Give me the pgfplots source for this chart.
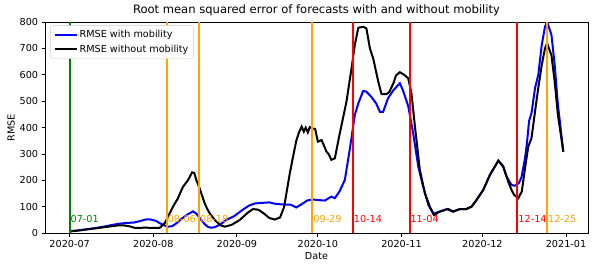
\documentclass[border=0pt]{standalone}
\usepackage{fontspec}
\setmainfont{DejaVu Sans}
\usepackage{pgfplots}
\pgfplotsset{compat=1.18}
\definecolor{mplgreen}{RGB}{0,128,0}
\definecolor{mplorange}{RGB}{255,165,0}
\definecolor{mplred}{RGB}{255,0,0}
\definecolor{mplblue}{RGB}{0,0,255}
\begin{document}
\begin{tikzpicture}
\useasboundingbox (0,0) rectangle (595bp,270bp);
\begin{axis}[
  at={(45bp,36.7bp)}, anchor=south west,
  scale only axis, width=543bp, height=211.3bp,
  xmin=-9.15, xmax=192.15, ymin=0, ymax=800,
  xtick={0,31,62,92,123,153,184},
  xticklabels={2020-07,2020-08,2020-09,2020-10,2020-11,2020-12,2021-01},
  ytick={0,100,...,800},
  xtick pos=left, ytick pos=left, tick align=outside,
  major tick length=3.4bp,
  every tick/.style={black, line width=0.9bp},
  axis line style={line width=0.9bp},
  /pgf/number format/assume math mode=true,
  tick label style={font=\fontsize{9.7}{11}\selectfont},
  label style={font=\fontsize{9.7}{11}\selectfont},
  xlabel={Date}, ylabel={RMSE},
  xlabel style={yshift=2bp},
  ylabel style={yshift=-2bp},
  title={Root mean squared error of forecasts with and without mobility},
  title style={font=\fontsize{11.6}{13}\selectfont, yshift=-3bp},
  legend style={at={(0.01,0.985)}, anchor=north west, draw=black!20, rounded corners=2bp,
    font=\fontsize{9.7}{11}\selectfont, inner xsep=3bp, inner ysep=3bp, row sep=1.5bp},
  legend cell align=left,
  legend image code/.code={\draw[line width=2bp,#1] (0bp,0bp) -- (22bp,0bp);},
  clip=true,
]
\addplot[draw=mplblue, line width=2bp] coordinates {
(0,8) (3,11) (6,15) (9,19) (12,24) (15,30) (18,36) (21,39) (24,41) (26,46) (28,52) (29.7,53) (32,47) (33.4,38) (35,30) (36.5,25) (38,27) (39.6,38) (41.5,55) (43.3,69) (45.7,83) (47,74) (48.8,50) (50,35) (51.3,24) (52.5,21) (54,24) (56,35) (58,50) (61,65) (64,88) (66.5,105) (68.6,113) (71,115) (74,117) (76,112) (78,110) (80,109) (82,108) (84,98) (86,110) (88,124) (90,128) (92,126) (94.6,124) (97,139) (98.3,133) (100,158) (102,202) (103.9,322) (105.7,448) (107,492) (108.8,539) (110,536) (111.8,517) (113.6,492) (115,460) (116.2,460) (118,511) (120,542) (122.4,568) (123.6,540) (125.5,481) (127.3,381) (129.2,254) (131,178) (133,107) (134.8,74) (137,82) (140,92) (142,82) (144.7,92) (147,92) (149,101) (150.8,126) (153.3,164) (155.8,221) (158.9,275) (160.7,255) (162,214) (163.8,183) (165,180) (166.5,190) (167.5,212) (168.8,285) (169.5,340) (170.3,425) (171.2,455) (172.5,549) (173.7,599) (175,713) (176.2,782) (177,800) (178.6,751) (179.8,637) (181,486) (183,309)
};
\addlegendentry{RMSE with mobility}
\addplot[draw=black, line width=2bp] coordinates {
(0,7) (3,10) (6,14) (9,18) (12,22) (15,26) (18,30) (20,30) (22,27) (24,21) (26,20) (28,22) (30,20) (33.4,21) (35.2,38) (38.3,101) (40,130) (42,176) (43.9,202) (45.4,231) (46.2,228) (47,200) (48,175) (49,145) (50,115) (51,92) (52,74) (54,48) (56,30) (57.5,25) (60,32) (63,50) (66,78) (68,92) (70,89) (72,75) (74,58) (76,52) (78,60) (79.5,100) (81.6,227) (83,300) (84,350) (85,382) (86,404) (86.8,385) (87.5,400) (88.3,382) (89,402) (90,397) (91,395) (92,347) (93.4,353) (95.2,309) (96,300) (97,278) (98.3,284) (100,372) (102.6,498) (104.5,625) (105.7,713) (107,778) (108.8,782) (110,776) (111.3,700) (112.5,663) (114.4,574) (115.6,527) (117.4,527) (118.5,535) (120,568) (121,598) (122.4,610) (124,600) (125.5,587) (126.7,530) (128,404) (129.8,240) (131.7,151) (133.5,101) (135.1,69) (137.2,82) (140.3,92) (142.2,82) (144.7,92) (147.1,92) (149,101) (150.8,126) (153.3,164) (155.8,221) (158.9,275) (160.7,252) (162.6,195) (163.8,164) (164.8,145) (166.3,133) (167.6,158) (168.8,246) (170,328) (171.2,360) (172.5,460) (173.7,549) (175,637) (176.2,700) (177,719) (178.6,674) (179.8,574) (181,448) (183,309)
};
\addlegendentry{RMSE without mobility}
\addplot[draw=mplgreen, line width=2bp, forget plot] coordinates {(0,0) (0,800)};
\addplot[draw=mplorange, line width=2bp, forget plot] coordinates {(36,0) (36,800)};
\addplot[draw=mplorange, line width=2bp, forget plot] coordinates {(48,0) (48,800)};
\addplot[draw=mplorange, line width=2bp, forget plot] coordinates {(90,0) (90,800)};
\addplot[draw=mplred, line width=2bp, forget plot] coordinates {(105,0) (105,800)};
\addplot[draw=mplred, line width=2bp, forget plot] coordinates {(126,0) (126,800)};
\addplot[draw=mplred, line width=2bp, forget plot] coordinates {(166,0) (166,800)};
\addplot[draw=mplorange, line width=2bp, forget plot] coordinates {(177,0) (177,800)};
\begin{scope}[every node/.style={anchor=base west, inner sep=0pt, font=\fontsize{9.7}{11}\selectfont}]
\node[text=mplgreen] at (axis cs:0.3,40) {07-01};
\node[text=mplorange] at (axis cs:36.3,40) {08-06};
\node[text=mplorange] at (axis cs:48.3,40) {08-18};
\node[text=mplorange] at (axis cs:90.3,40) {09-29};
\node[text=mplred] at (axis cs:105.3,40) {10-14};
\node[text=mplred] at (axis cs:126.3,40) {11-04};
\node[text=mplred] at (axis cs:166.3,40) {12-14};
\node[text=mplorange] at (axis cs:177.3,40) {12-25};
\end{scope}
\end{axis}
\end{tikzpicture}
\end{document}
